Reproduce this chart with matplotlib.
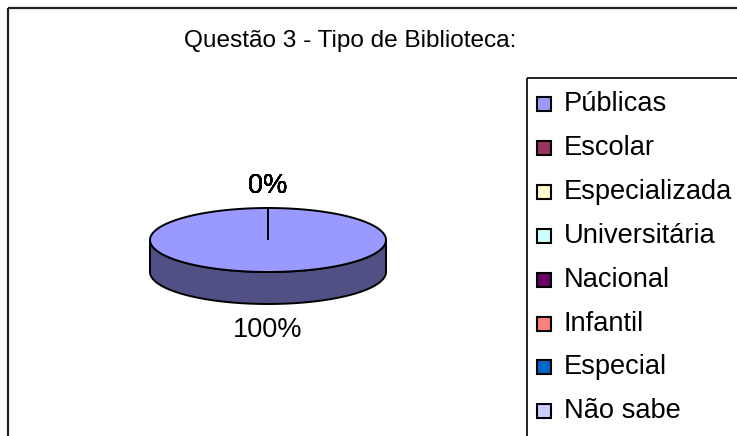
import numpy as np
import matplotlib.pyplot as plt
from matplotlib.patches import Polygon, Rectangle

plt.rcParams['font.family'] = ['Liberation Sans', 'DejaVu Sans']

titulo = 'Questão 3 - Tipo de Biblioteca:'
categorias = ['Públicas', 'Escolar', 'Especializada', 'Universitária',
              'Nacional', 'Infantil', 'Especial', 'Não sabe']
valores = [100, 0, 0, 0, 0, 0, 0, 0]
cores = ['#9999FF', '#993366', '#FFFFCC', '#CCFFFF',
         '#660066', '#FF8080', '#0066CC', '#CCCCFF']


def escurecer(c, f=0.52):
    r, g, b = plt.matplotlib.colors.to_rgb(c)
    return (r * f, g * f, b * f)


W, H = 737, 436
fig = plt.figure(figsize=(W / 100, H / 100), dpi=100)
ax = fig.add_axes([0, 0, 1, 1])
ax.set_xlim(0, W)
ax.set_ylim(H, 0)
ax.axis('off')

# moldura do grafico e da legenda (cortadas na borda)
ax.add_patch(Rectangle((8, 8), 800, 500, fill=False, lw=1.6, ec='#222222'))
ax.add_patch(Rectangle((527, 78), 300, 400, fill=False, lw=1.4, ec='#222222'))

ax.text(350, 41, titulo, fontsize=17.6, ha='center', va='center')

# pizza 3D
cx, cy, rx, ry, prof = 268, 240, 118, 32, 32
total = float(sum(valores))
fr = np.array(valores) / total
inicio = 90.0
angs = []
for f in fr:
    fim = inicio - f * 360
    angs.append((inicio, fim))
    inicio = fim


def pts(a0, a1, n=200):
    t = np.radians(np.linspace(a0, a1, n))
    return cx + rx * np.cos(t), cy - ry * np.sin(t)


# laterais (parte da frente)
for (a0, a1), f, c in zip(angs, fr, cores):
    if f <= 0:
        continue
    t = np.linspace(a0, a1, 400)
    frente = np.sin(np.radians(t)) <= 0
    if not frente.any():
        continue
    tt = np.radians(t[frente])
    x = cx + rx * np.cos(tt)
    y = cy - ry * np.sin(tt)
    poly = np.concatenate([np.c_[x, y], np.c_[x[::-1], y[::-1] + prof]])
    ax.add_patch(Polygon(poly, closed=True, fc=escurecer(c), ec='black', lw=1.4))

# topo
for (a0, a1), f, c in zip(angs, fr, cores):
    if f <= 0:
        continue
    x, y = pts(a0, a1)
    poly = np.concatenate([[[cx, cy]], np.c_[x, y]])
    ax.add_patch(Polygon(poly, closed=True, fc=c, ec='black', lw=1.4))

# rotulos
for (a0, a1), v in zip(angs, valores):
    m = np.radians((a0 + a1) / 2)
    s = np.sin(m)
    lx = cx + (rx + 18) * np.cos(m)
    if s >= 0:
        ly = cy - ry * s - 22
    else:
        ly = cy - ry * s + prof + 26
    ax.text(lx, ly, '%d%%' % round(v / total * 100), fontsize=19.5,
            ha='center', va='center')

# legenda
for i, (nome, c) in enumerate(zip(categorias, cores)):
    yy = 104 + i * 43.9
    ax.add_patch(Rectangle((537, yy - 7), 14, 14, fc=c, ec='black', lw=1.5))
    ax.text(564, yy, nome, fontsize=19.6, ha='left', va='center')

fig.savefig('out.png', dpi=100)
